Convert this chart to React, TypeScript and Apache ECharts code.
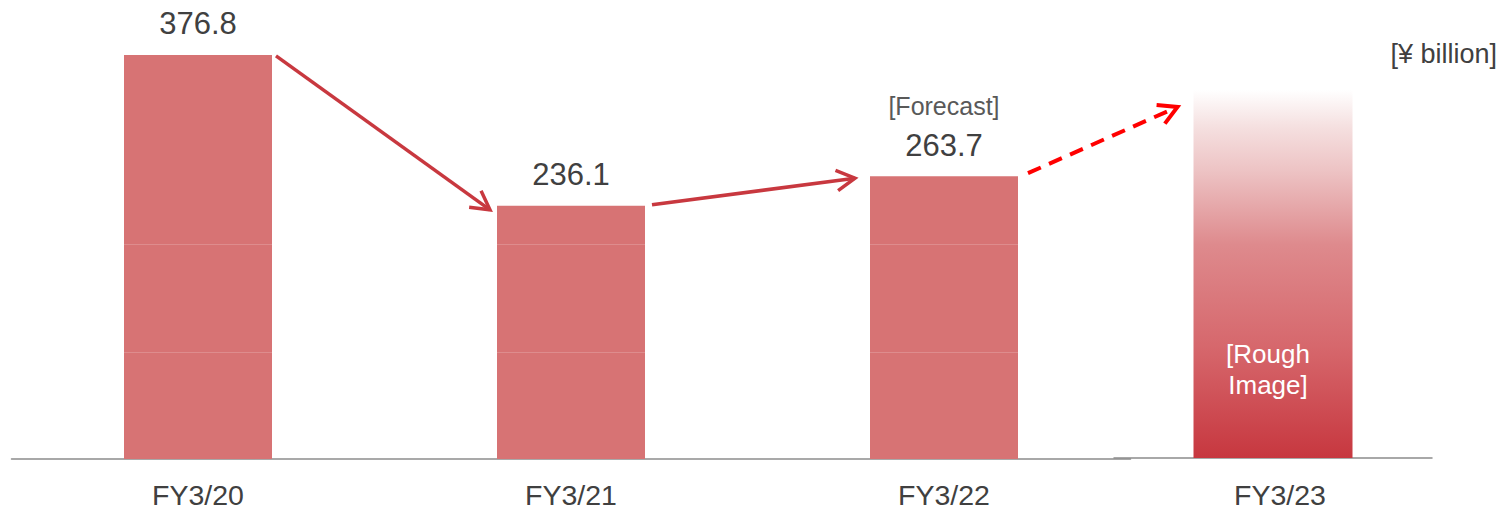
import React, { useEffect, useRef } from "react";
import * as echarts from "echarts";

const categories = ["FY3/20", "FY3/21", "FY3/22"];
const values = [376.8, 236.1, 263.7];
const forecastFlags = [false, false, true];
const roughCategory = ["FY3/23"];
const roughValue = [344];
const gridLineValues = [100, 200];
const unitLabel = "[¥ billion]";

const FONT = "'Liberation Sans', Arial, Helvetica, sans-serif";
const BAR_COLOR = "#d77374";
const ARROW_COLOR = "#c8383f";

function arrowEls(from: number[], to: number[], color: string, width: number, dash?: number[]) {
  const ang = Math.atan2(to[1] - from[1], to[0] - from[0]);
  const len = 21;
  const spread = Math.PI / 6.2;
  const a1 = [to[0] - len * Math.cos(ang - spread), to[1] - len * Math.sin(ang - spread)];
  const a2 = [to[0] - len * Math.cos(ang + spread), to[1] - len * Math.sin(ang + spread)];
  return [
    {
      type: "line",
      shape: { x1: from[0], y1: from[1], x2: to[0], y2: to[1] },
      style: { stroke: color, lineWidth: width, lineDash: dash || null },
      z: 10,
    },
    {
      type: "polyline",
      shape: { points: [a1, to, a2] },
      style: { stroke: color, lineWidth: width, fill: null },
      z: 10,
    },
  ];
}

export default function App() {
  const ref = useRef<HTMLDivElement>(null);
  useEffect(() => {
    if (!ref.current) return;
    const chart = echarts.init(ref.current, null, { renderer: "svg" });
    const yMax = 428;
    const option: any = {
      animation: false,
      backgroundColor: "#ffffff",
      grid: [
        { left: 11.5, top: 0, width: 1119, bottom: 51 },
        { left: 1114, top: 0, width: 318, bottom: 52 },
      ],
      xAxis: [
        {
          type: "category",
          gridIndex: 0,
          data: categories,
          axisLine: { lineStyle: { color: "#8c8c8c", width: 1.5 } },
          axisTick: { show: false },
          axisLabel: { fontSize: 28.5, color: "#404040", margin: 21, fontFamily: FONT },
        },
        {
          type: "category",
          gridIndex: 1,
          data: roughCategory,
          axisLine: { lineStyle: { color: "#8c8c8c", width: 1.5 } },
          axisTick: { show: false },
          axisLabel: {
            fontSize: 28.5,
            color: "#404040",
            margin: 22,
            fontFamily: FONT,
            padding: [0, 0, 0, 14],
          },
        },
      ],
      yAxis: [
        { type: "value", gridIndex: 0, min: 0, max: yMax, show: false, splitLine: { show: false } },
        { type: "value", gridIndex: 1, min: 0, max: yMax, show: false, splitLine: { show: false } },
      ],
      series: [
        {
          type: "bar",
          xAxisIndex: 0,
          yAxisIndex: 0,
          data: values,
          barWidth: 148,
          itemStyle: { color: BAR_COLOR },
          label: {
            show: true,
            position: "top",
            distance: 15,
            fontFamily: FONT,
            formatter: (p: any) =>
              forecastFlags[p.dataIndex]
                ? "{f|[Forecast]}\n{v|" + p.value.toFixed(1) + "}"
                : "{v|" + p.value.toFixed(1) + "}",
            rich: {
              f: { fontSize: 25, color: "#595959", lineHeight: 46, fontFamily: FONT, align: "center" },
              v: { fontSize: 31, color: "#404040", lineHeight: 32, fontFamily: FONT, align: "center" },
            },
          },
          markLine: {
            silent: true,
            symbol: ["none", "none"],
            label: { show: false },
            lineStyle: { color: "rgba(255,255,255,0.18)", width: 1, type: "solid" },
            data: gridLineValues.map((v) => ({ yAxis: v })),
          },
        },
        {
          type: "bar",
          xAxisIndex: 1,
          yAxisIndex: 1,
          data: roughValue,
          barWidth: 159,
          itemStyle: {
            color: new echarts.graphic.LinearGradient(0, 0, 0, 1, [
              { offset: 0, color: "#ffffff" },
              { offset: 0.1, color: "#f5e0e0" },
              { offset: 0.22, color: "#edc3c4" },
              { offset: 0.42, color: "#de8a8d" },
              { offset: 0.7, color: "#d6676c" },
              { offset: 1, color: "#c7373f" },
            ]),
          },
          label: {
            show: true,
            position: "insideBottom",
            distance: 58,
            offset: [-5, 0],
            formatter: "[Rough\nImage]",
            fontSize: 26,
            lineHeight: 31,
            color: "#ffffff",
            fontFamily: FONT,
            align: "center",
          },
        },
      ],
    };
    chart.setOption(option);

    const px = values.map((v, i) => chart.convertToPixel({ xAxisIndex: 0, yAxisIndex: 0 }, [i, v]) as number[]);
    const r = chart.convertToPixel({ xAxisIndex: 1, yAxisIndex: 1 }, [0, roughValue[0]]) as number[];
    const hw = 74;
    const hr = 79.5;
    const graphic: any[] = [
      ...arrowEls([px[0][0] + hw + 4, px[0][1] + 1], [px[1][0] - hw - 7, px[1][1] + 4], ARROW_COLOR, 3.5),
      ...arrowEls([px[1][0] + hw + 7, px[1][1] - 1], [px[2][0] - hw - 15, px[2][1] + 2], ARROW_COLOR, 3.5),
      ...arrowEls([px[2][0] + hw + 10, px[2][1] - 3], [r[0] - hr - 16, r[1] + 17], "#ff0000", 4, [14, 9]),
      {
        type: "text",
        right: 2,
        top: 40,
        style: { text: unitLabel, fontSize: 27, fill: "#404040", fontFamily: FONT },
      },
    ];
    chart.setOption({ graphic });
    return () => chart.dispose();
  }, []);
  return (
    <div
      ref={ref}
      style={{ position: "fixed", left: 0, top: 0, width: 1499, height: 510, background: "#fff" }}
    />
  );
}
